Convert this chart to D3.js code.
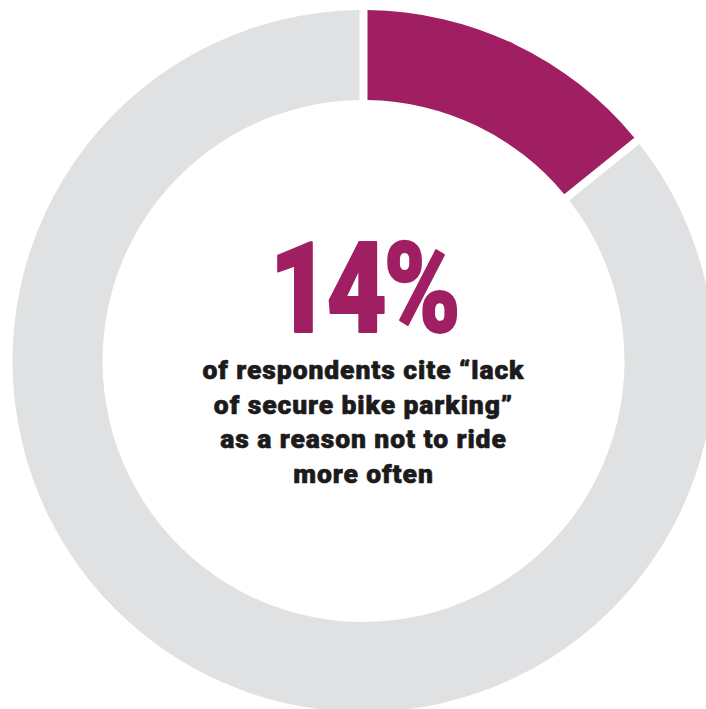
<!DOCTYPE html>
<html>
<head>
<meta charset="utf-8">
<script src="https://cdn.jsdelivr.net/npm/d3@7/dist/d3.min.js"></script>
<style>
  html, body { margin: 0; padding: 0; background: #ffffff; }
  svg { display: block; }
</style>
</head>
<body>
<script>
// Data
const categories = ["Lack of secure bike parking", "Other respondents"];
const values = [14, 86];
const colors = ["#a01f62", "#e0e1e3"];
const headline = "14%";
const captionLines = [
  "of respondents cite \u201clack",
  "of secure bike parking\u201d",
  "as a reason not to ride",
  "more often"
];

const W = 706, H = 709;
const cx = 363.5, cy = 361;
const outerR = 351, innerR = 261;

const svg = d3.select("body").append("svg")
  .attr("width", W).attr("height", H);

const pie = d3.pie().sort(null).value(d => d.value).padAngle(8 / Math.sqrt(innerR * innerR + outerR * outerR));
const arc = d3.arc().innerRadius(innerR).outerRadius(outerR);

const data = categories.map((c, i) => ({ name: c, value: values[i], color: colors[i] }));

const g = svg.append("g").attr("transform", `translate(${cx},${cy})`);
g.selectAll("path").data(pie(data)).join("path")
  .attr("d", arc)
  .attr("fill", d => d.data.color);

g.append("text")
  .attr("transform", `translate(0,${332 - cy}) scale(0.82,1)`)
  .attr("text-anchor", "middle")
  .attr("font-family", "Roboto, sans-serif")
  .attr("font-weight", 900)
  .attr("font-size", 127)
  .attr("letter-spacing", -4)
  .attr("fill", colors[0])
  .attr("stroke", colors[0])
  .attr("stroke-width", 2)
  .attr("stroke-linejoin", "round")
  .text(headline);

const baseY = 379 - cy, lineH = 34.5;
g.selectAll("text.cap").data(captionLines).join("text")
  .attr("class", "cap")
  .attr("x", 0)
  .attr("y", (d, i) => baseY + i * lineH)
  .attr("text-anchor", "middle")
  .attr("font-family", "Roboto, sans-serif")
  .attr("font-weight", 900)
  .attr("font-size", 26.5)
  .attr("letter-spacing", 0.9)
  .attr("fill", "#1c1a1b")
  .attr("stroke", "#1c1a1b")
  .attr("stroke-width", 0.6)
  .attr("stroke-linejoin", "round")
  .text(d => d);
</script>
</body>
</html>
